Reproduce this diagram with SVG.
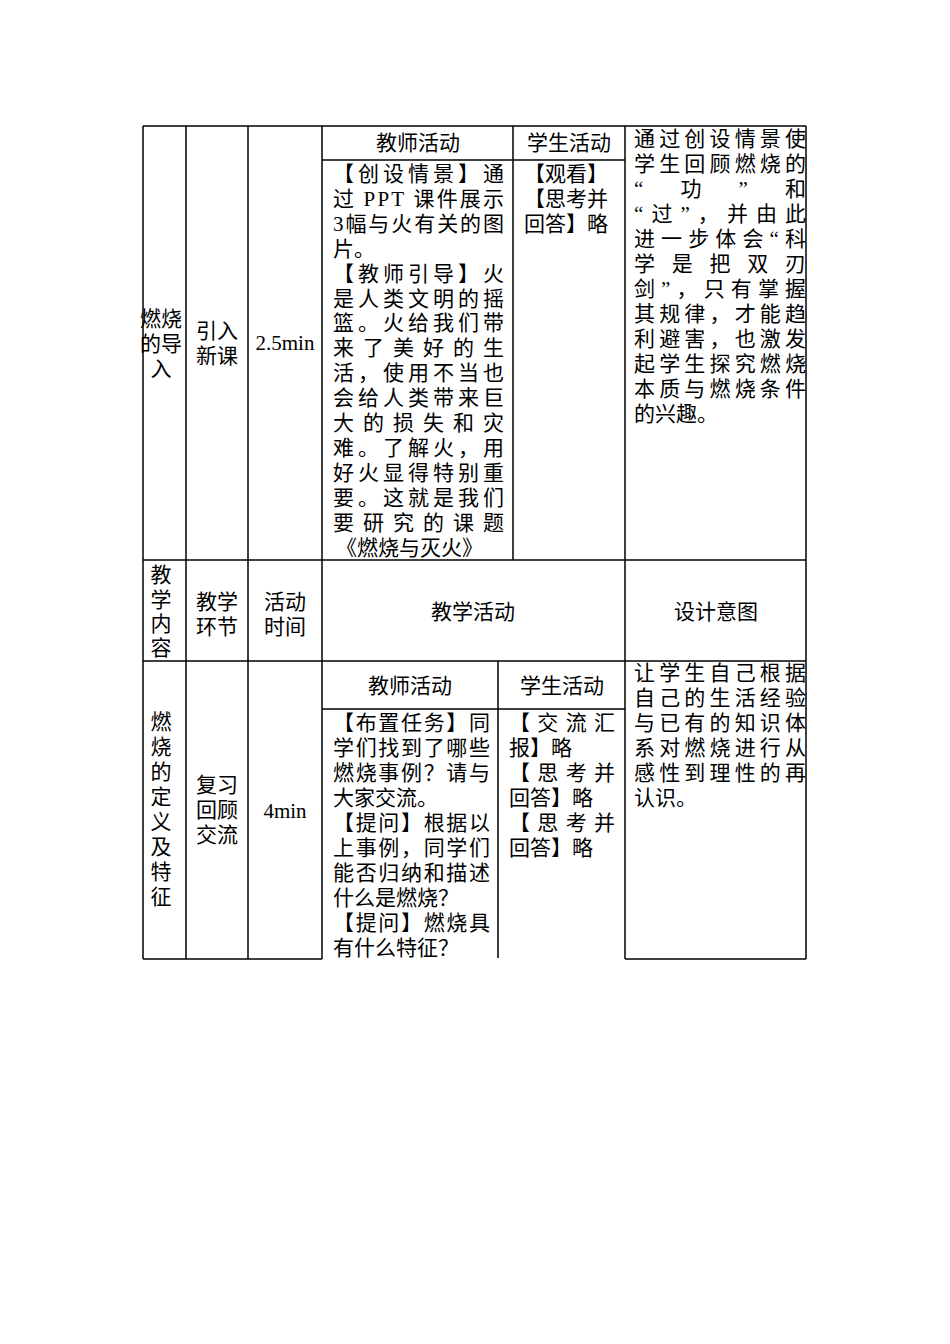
<svg xmlns="http://www.w3.org/2000/svg" width="950" height="1344" viewBox="0 0 950 1344">
<style>
text{font-family:"Liberation Serif","Noto Sans CJK SC",serif;font-size:21px;fill:#000}
.c{text-anchor:middle}
line{stroke:#000;stroke-width:1.5}
</style>
<rect width="950" height="1344" fill="#fff"/>
<g id="connectors">
<line x1="143" y1="126" x2="806" y2="126"/>
<line x1="322" y1="160" x2="625" y2="160"/>
<line x1="143" y1="560" x2="806" y2="560"/>
<line x1="143" y1="661" x2="806" y2="661"/>
<line x1="322" y1="709" x2="625" y2="709"/>
<line x1="143" y1="959" x2="322" y2="959"/>
<line x1="625" y1="959" x2="806" y2="959"/>
<line x1="143" y1="126" x2="143" y2="959"/>
<line x1="186" y1="126" x2="186" y2="959"/>
<line x1="248" y1="126" x2="248" y2="959"/>
<line x1="322" y1="126" x2="322" y2="959"/>
<line x1="513" y1="126" x2="513" y2="560"/>
<line x1="498" y1="661" x2="498" y2="958"/>
<line x1="625" y1="126" x2="625" y2="959"/>
<line x1="806" y1="126" x2="806" y2="959"/>
</g>
<g id="sec1-content"><text class="c" x="161" y="326">燃烧</text><text class="c" x="161" y="351">的导</text><text class="c" x="161" y="376">入</text></g>
<g id="sec1-step"><text class="c" x="217" y="338">引入</text><text class="c" x="217" y="363">新课</text></g>
<g id="sec1-time"><text class="c" x="285" y="350">2.5min</text></g>
<g id="sec1-teacher-h"><text class="c" x="418" y="150">教师活动</text></g>
<g id="sec1-student-h"><text class="c" x="569" y="150">学生活动</text></g>
<g id="sec1-teacher">
<text x="333" y="181" textLength="171" lengthAdjust="spacing">【创设情景】通</text>
<text x="333" y="206" textLength="171" lengthAdjust="spacing">过 PPT 课件展示</text>
<text x="333" y="231" textLength="171" lengthAdjust="spacing">3幅与火有关的图</text>
<text x="333" y="256">片。</text>
<text x="333" y="281" textLength="171" lengthAdjust="spacing">【教师引导】火</text>
<text x="333" y="306" textLength="171" lengthAdjust="spacing">是人类文明的摇</text>
<text x="333" y="330" textLength="171" lengthAdjust="spacing">篮。火给我们带</text>
<text x="333" y="355" textLength="171" lengthAdjust="spacing">来了美好的生</text>
<text x="333" y="380" textLength="171" lengthAdjust="spacing">活，使用不当也</text>
<text x="333" y="405" textLength="171" lengthAdjust="spacing">会给人类带来巨</text>
<text x="333" y="430" textLength="171" lengthAdjust="spacing">大的损失和灾</text>
<text x="333" y="455" textLength="171" lengthAdjust="spacing">难。了解火，用</text>
<text x="333" y="480" textLength="171" lengthAdjust="spacing">好火显得特别重</text>
<text x="333" y="505" textLength="171" lengthAdjust="spacing">要。这就是我们</text>
<text x="333" y="530" textLength="171" lengthAdjust="spacing">要研究的课题</text>
<text x="336" y="555">《燃烧与灭火》</text>
</g>
<g id="sec1-student">
<text x="524" y="181">【观看】</text>
<text x="524" y="206">【思考并</text>
<text x="524" y="231">回答】略</text>
</g>
<g id="sec1-design">
<text x="634" y="146" textLength="172" lengthAdjust="spacing">通过创设情景使</text>
<text x="634" y="171" textLength="172" lengthAdjust="spacing">学生回顾燃烧的</text>
<text x="634" y="196" textLength="172" lengthAdjust="spacing">“功”和</text>
<text x="634" y="221" textLength="172" lengthAdjust="spacing">“过”，并由此</text>
<text x="634" y="246" textLength="172" lengthAdjust="spacing">进一步体会“科</text>
<text x="634" y="271" textLength="172" lengthAdjust="spacing">学是把双刃</text>
<text x="634" y="296" textLength="172" lengthAdjust="spacing">剑”，只有掌握</text>
<text x="634" y="321" textLength="172" lengthAdjust="spacing">其规律，才能趋</text>
<text x="634" y="346" textLength="172" lengthAdjust="spacing">利避害，也激发</text>
<text x="634" y="371" textLength="172" lengthAdjust="spacing">起学生探究燃烧</text>
<text x="634" y="396" textLength="172" lengthAdjust="spacing">本质与燃烧条件</text>
<text x="634" y="421">的兴趣。</text>
</g>
<g id="header">
<text class="c" x="161" y="582">教</text><text class="c" x="161" y="607">学</text><text class="c" x="161" y="631">内</text><text class="c" x="161" y="655">容</text>
<text class="c" x="217" y="609">教学</text><text class="c" x="217" y="634">环节</text>
<text class="c" x="285" y="609">活动</text><text class="c" x="285" y="634">时间</text>
<text class="c" x="473" y="619">教学活动</text>
<text class="c" x="716" y="619">设计意图</text>
</g>
<g id="sec3-content">
<text class="c" x="161" y="729">燃</text><text class="c" x="161" y="754">烧</text><text class="c" x="161" y="779">的</text><text class="c" x="161" y="804">定</text><text class="c" x="161" y="829">义</text><text class="c" x="161" y="854">及</text><text class="c" x="161" y="879">特</text><text class="c" x="161" y="904">征</text>
</g>
<g id="sec3-step"><text class="c" x="217" y="792">复习</text><text class="c" x="217" y="817">回顾</text><text class="c" x="217" y="842">交流</text></g>
<g id="sec3-time"><text class="c" x="285" y="818">4min</text></g>
<g id="sec3-teacher-h"><text class="c" x="410" y="693">教师活动</text></g>
<g id="sec3-student-h"><text class="c" x="562" y="693">学生活动</text></g>
<g id="sec3-teacher">
<text x="333" y="730" textLength="157" lengthAdjust="spacing">【布置任务】同</text>
<text x="333" y="755" textLength="157" lengthAdjust="spacing">学们找到了哪些</text>
<text x="333" y="780" textLength="157" lengthAdjust="spacing">燃烧事例？请与</text>
<text x="333" y="805">大家交流。</text>
<text x="333" y="830" textLength="157" lengthAdjust="spacing">【提问】根据以</text>
<text x="333" y="855" textLength="157" lengthAdjust="spacing">上事例，同学们</text>
<text x="333" y="880" textLength="157" lengthAdjust="spacing">能否归纳和描述</text>
<text x="333" y="905">什么是燃烧？</text>
<text x="333" y="930" textLength="157" lengthAdjust="spacing">【提问】燃烧具</text>
<text x="333" y="955">有什么特征？</text>
</g>
<g id="sec3-student">
<text x="509" y="730" textLength="106" lengthAdjust="spacing">【交流汇</text>
<text x="509" y="755">报】略</text>
<text x="509" y="780" textLength="106" lengthAdjust="spacing">【思考并</text>
<text x="509" y="805">回答】略</text>
<text x="509" y="830" textLength="106" lengthAdjust="spacing">【思考并</text>
<text x="509" y="855">回答】略</text>
</g>
<g id="sec3-design">
<text x="634" y="680" textLength="172" lengthAdjust="spacing">让学生自己根据</text>
<text x="634" y="705" textLength="172" lengthAdjust="spacing">自己的生活经验</text>
<text x="634" y="730" textLength="172" lengthAdjust="spacing">与已有的知识体</text>
<text x="634" y="755" textLength="172" lengthAdjust="spacing">系对燃烧进行从</text>
<text x="634" y="780" textLength="172" lengthAdjust="spacing">感性到理性的再</text>
<text x="634" y="805">认识。</text>
</g>
</svg>
